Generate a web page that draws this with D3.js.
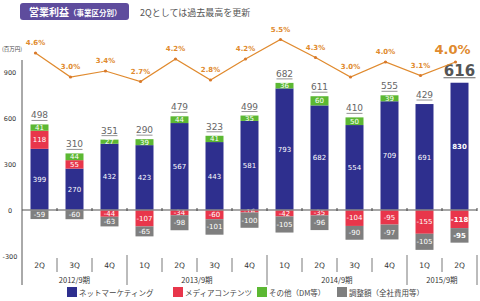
<!DOCTYPE html>
<html>
<head>
<meta charset="utf-8">
<script src="https://cdn.jsdelivr.net/npm/d3@7"></script>
<style>
  body { margin: 0; background: #fff; }
  text { font-family: "DejaVu Sans", Verdana, sans-serif; }
  .jp { font-family: "Noto Sans CJK JP", sans-serif; }
</style>
</head>
<body>
<div id="graphic"></div>
<script>
// quarters and fiscal years
var quarters = ['2Q', '3Q', '4Q', '1Q', '2Q', '3Q', '4Q', '1Q', '2Q', '3Q', '4Q', '1Q', '2Q'];
var years = [
    { label: '2012/9期', count: 3 },
    { label: '2013/9期', count: 4 },
    { label: '2014/9期', count: 4 },
    { label: '2015/9期', count: 2 }
];

// segment values (百万円)
var netMarketing = [399, 270, 432, 423, 567, 443, 581, 793, 682, 554, 709, 691, 830];
var mediaContents = [118, 55, -44, -107, -34, -60, -16, -42, -35, -104, -95, -155, -118];
var others = [41, 44, 27, 39, 44, 41, 35, 36, 60, 50, 39, 0, 0];
var adjustments = [-59, -60, -63, -65, -98, -101, -100, -105, -96, -90, -97, -105, -95];
var totals = [498, 310, 351, 290, 479, 323, 499, 682, 611, 410, 555, 429, 616];

// operating margin (%)
var margins = [4.6, 3.0, 3.4, 2.7, 4.2, 2.8, 4.2, 5.5, 4.3, 3.0, 4.0, 3.1, 4.0];

var yTicks = [900, 600, 300, 0, -300];

var seriesNames = ['ネットマーケティング', 'メディアコンテンツ', 'その他（DM等）', '調整額（全社費用等）'];
var seriesColors = ['#2e2f8e', '#e8364b', '#5cb833', '#7f7f7f'];

var svgWidth = 480;
var svgHeight = 301;

var svg = d3.select("#graphic")
    .append("svg")
    .attr("width", svgWidth)
    .attr("height", svgHeight);

// title
svg.append("rect")
    .attr("x", 20).attr("y", 3)
    .attr("width", 109).attr("height", 17)
    .attr("rx", 3)
    .attr("fill", "#5e4c9d");

var title = svg.append("text")
    .attr("class", "jp")
    .attr("x", 29).attr("y", 15.5)
    .attr("fill", "white")
    .style("font-weight", "bold");
title.append("tspan").style("font-size", "10px").text("営業利益");
title.append("tspan").style("font-size", "7.5px").text("（事業区分別）");

svg.append("text")
    .attr("class", "jp")
    .attr("x", 140).attr("y", 15.5)
    .attr("fill", "#555")
    .style("font-size", "9px")
    .text("2Qとしては過去最高を更新");

// scales
var x = d3.scaleBand()
    .domain(d3.range(quarters.length))
    .range([22, 477])
    .paddingInner(0.486)
    .paddingOuter(0.243);

var y = d3.scaleLinear()
    .domain([-300, 900])
    .range([256, 72]);

var yPct = d3.scaleLinear()
    .domain([2.7, 5.5])
    .range([81.5, 39.5]);

// stacked data
var rows = quarters.map(function(q, i) {
    return { i: i, net: netMarketing[i], media: mediaContents[i], other: others[i], adj: adjustments[i] };
});
var keys = ['net', 'media', 'other', 'adj'];
var stacked = d3.stack().keys(keys).offset(d3.stackOffsetDiverging)(rows);

// y axis labels
svg.append("g").selectAll("text")
    .data(yTicks)
    .enter()
    .append("text")
    .attr("x", 10)
    .attr("y", function(d) { return y(d) + 2.5; })
    .attr("text-anchor", "middle")
    .attr("fill", "#333")
    .style("font-size", "6.5px")
    .text(function(d) { return d; });

svg.append("text")
    .attr("class", "jp")
    .attr("x", 12).attr("y", 51)
    .attr("text-anchor", "middle")
    .attr("fill", "#444")
    .style("font-size", "5.5px")
    .text("(百万円)");

// bars
var layers = svg.append("g").selectAll("g")
    .data(stacked)
    .enter()
    .append("g")
    .attr("fill", function(d, k) { return seriesColors[k]; });

layers.selectAll("rect")
    .data(function(d) { return d; })
    .enter()
    .append("rect")
    .attr("x", function(d) { return x(d.data.i); })
    .attr("y", function(d) { return y(Math.max(d[0], d[1])); })
    .attr("width", x.bandwidth())
    .attr("height", function(d) { return Math.abs(y(d[0]) - y(d[1])); });

// zero line
svg.append("line")
    .attr("x1", 22).attr("x2", 477)
    .attr("y1", y(0)).attr("y2", y(0))
    .attr("stroke", "#8a8a8a")
    .attr("stroke-width", 1.5);

// little ticks on the zero line between bars
svg.append("g").selectAll("line")
    .data(d3.range(1, quarters.length + 1))
    .enter()
    .append("line")
    .attr("x1", function(d) { return 22 + d * x.step(); })
    .attr("x2", function(d) { return 22 + d * x.step(); })
    .attr("y1", y(0) - 2).attr("y2", y(0) + 1)
    .attr("stroke", "#444")
    .attr("stroke-width", 1);

// segment labels
layers.selectAll("text")
    .data(function(d) { return d.map(function(p) { return { p: p, key: d.key }; }); })
    .enter()
    .filter(function(d) { return d.p.data[d.key] !== 0; })
    .append("text")
    .attr("x", function(d) { return x(d.p.data.i) + x.bandwidth() / 2; })
    .attr("y", function(d) { return (y(d.p[0]) + y(d.p[1])) / 2 + 2.5; })
    .attr("text-anchor", "middle")
    .attr("fill", "white")
    .style("font-size", "7px")
    .style("font-weight", function(d) { return d.p.data.i === quarters.length - 1 ? "bold" : "normal"; })
    .text(function(d) { return d.p.data[d.key]; });

// vertical axis line
svg.append("line")
    .attr("x1", 22).attr("x2", 22)
    .attr("y1", 60).attr("y2", 285)
    .attr("stroke", "#555")
    .attr("stroke-width", 1);

// totals
var last = quarters.length - 1;
var totalG = svg.append("g").selectAll("g")
    .data(totals)
    .enter()
    .append("g");

totalG.append("text")
    .attr("x", function(d, i) { return x(i) + x.bandwidth() / 2; })
    .attr("y", function(d, i) { return y(netMarketing[i] + Math.max(0, mediaContents[i]) + others[i]) - (i === last ? 7 : 6); })
    .attr("text-anchor", "middle")
    .attr("fill", function(d, i) { return i === last ? "#555" : "#666"; })
    .style("font-size", function(d, i) { return i === last ? "15px" : "9px"; })
    .style("font-weight", function(d, i) { return i === last ? "bold" : "normal"; })
    .text(function(d) { return d; });

totalG.append("line")
    .attr("x1", function(d, i) { return x(i) + x.bandwidth() / 2 - (i === last ? 16 : 8); })
    .attr("x2", function(d, i) { return x(i) + x.bandwidth() / 2 + (i === last ? 16 : 8); })
    .attr("y1", function(d, i) { return y(netMarketing[i] + Math.max(0, mediaContents[i]) + others[i]) - (i === last ? 5 : 4); })
    .attr("y2", function(d, i) { return y(netMarketing[i] + Math.max(0, mediaContents[i]) + others[i]) - (i === last ? 5 : 4); })
    .attr("stroke", "#666")
    .attr("stroke-width", function(d, i) { return i === last ? 1.2 : 0.7; });

// margin line
var px = function(i) { return x(i) + x.bandwidth() / 2 - 4; };
var line = d3.line()
    .x(function(d, i) { return px(i); })
    .y(function(d) { return yPct(d); });

svg.append("path")
    .datum(margins)
    .attr("d", line)
    .attr("fill", "none")
    .attr("stroke", "#e08a2e")
    .attr("stroke-width", 1.2);

svg.append("g").selectAll("circle")
    .data(margins)
    .enter()
    .append("circle")
    .attr("cx", function(d, i) { return px(i); })
    .attr("cy", function(d) { return yPct(d); })
    .attr("r", 1.6)
    .attr("fill", "#d9792a");

svg.append("g").selectAll("text")
    .data(margins)
    .enter()
    .append("text")
    .attr("x", function(d, i) { return px(i) - (i === last ? 3 : 0); })
    .attr("y", function(d) { return yPct(d) - 8; })
    .attr("text-anchor", "middle")
    .attr("fill", "#e08a2e")
    .style("font-size", function(d, i) { return i === last ? "13px" : "7px"; })
    .style("font-weight", "bold")
    .text(function(d) { return d.toFixed(1) + "%"; });

// category axis
svg.append("g").selectAll("text")
    .data(quarters)
    .enter()
    .append("text")
    .attr("x", function(d, i) { return x(i) + x.bandwidth() / 2; })
    .attr("y", 268)
    .attr("text-anchor", "middle")
    .attr("fill", "#333")
    .style("font-size", "7.5px")
    .text(function(d) { return d; });

var step = x.step();
var start = 0;
years.forEach(function(yr) {
    var x0 = 22 + start * step;
    var x1 = 22 + (start + yr.count) * step;
    for (var k = 1; k < yr.count; k++) {
        svg.append("line")
            .attr("x1", x0 + k * step).attr("x2", x0 + k * step)
            .attr("y1", 258).attr("y2", 272)
            .attr("stroke", "#555").attr("stroke-width", 0.8);
    }
    svg.append("line")
        .attr("x1", x1).attr("x2", x1)
        .attr("y1", 255).attr("y2", 285)
        .attr("stroke", "#555").attr("stroke-width", 0.8);
    svg.append("text")
        .attr("class", "jp")
        .attr("x", (x0 + x1) / 2)
        .attr("y", 283)
        .attr("text-anchor", "middle")
        .attr("fill", "#333")
        .style("font-size", "7.5px")
        .text(yr.label);
    start += yr.count;
});

// legend
var legendX = [67, 173, 257, 337];
var legend = svg.append("g").selectAll("g")
    .data(seriesNames)
    .enter()
    .append("g")
    .attr("transform", function(d, i) { return "translate(" + legendX[i] + ",287)"; });

legend.append("rect")
    .attr("width", 10).attr("height", 10)
    .attr("fill", function(d, i) { return seriesColors[i]; });

legend.append("text")
    .attr("class", "jp")
    .attr("x", 12).attr("y", 8.5)
    .attr("fill", "#444")
    .style("font-size", "7.5px")
    .text(function(d) { return d; });
</script>
</body>
</html>
